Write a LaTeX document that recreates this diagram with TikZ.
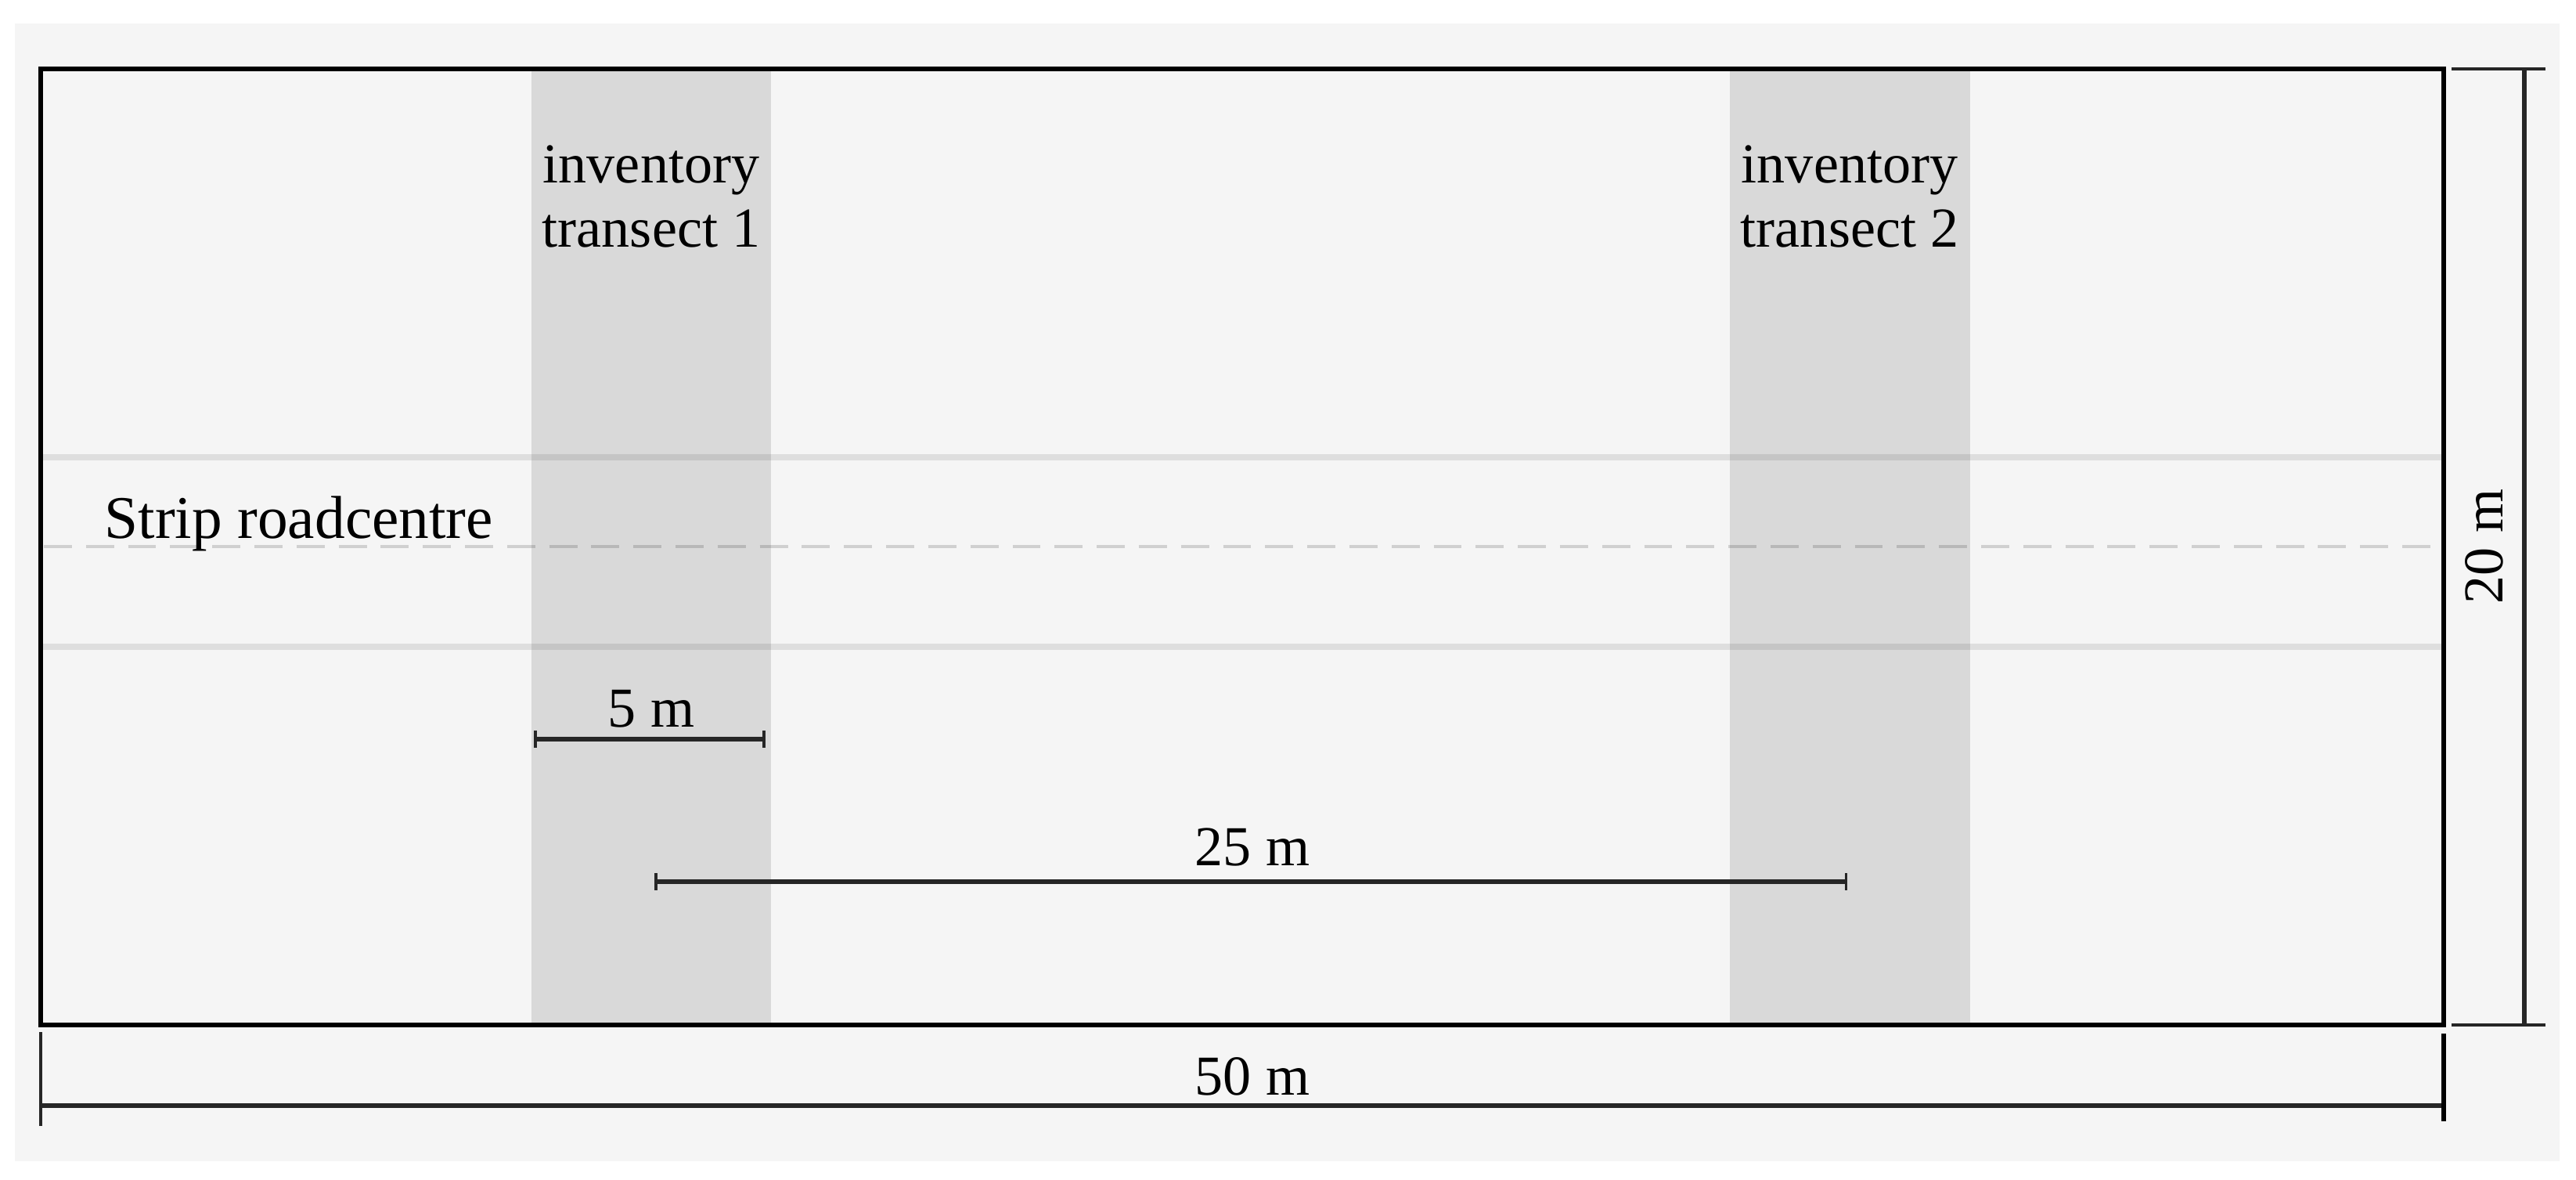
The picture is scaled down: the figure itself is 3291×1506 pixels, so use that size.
\documentclass[tikz,border=0pt]{standalone}
\usepackage{fontspec}
\setmainfont{Liberation Serif}
\usetikzlibrary{arrows.meta}
\definecolor{panel}{HTML}{F5F5F5}
\definecolor{bandgray}{HTML}{D9D9D9}
\begin{document}
\begin{tikzpicture}[x=0.01cm,y=-0.01cm,
  lbl/.style={font=\fontsize{20.5}{23.3}\selectfont, inner sep=0pt},
  stripline/.style={draw=black, draw opacity=0.09, line width=2.3pt},
  centreline/.style={draw=black, draw opacity=0.15, line width=1.4pt, dash pattern=on 10.2pt off 5.1pt},
  dimline/.style={line width=1.8pt, draw=black!85, {Bar[width=6pt,line width=1pt]}-{Bar[width=6pt,line width=1pt]}},
  bigdim/.style={line width=1.8pt, draw=black!85},
  tick/.style={line width=0.9pt, draw=black!85}]
\useasboundingbox (0,0) rectangle (3291,1506);
\fill[white] (0,0) rectangle (3291,1506);
\fill[panel] (19,30) rectangle (3270,1483);
% corners of the plot
\coordinate (r-nw) at (52,88);
\coordinate (r-se) at (3122,1309);
% transect bands
\fill[bandgray] (679,88) rectangle (985,1309);
\fill[bandgray] (2210,88) rectangle (2517,1309);
% strip road edges and centre
\coordinate (s1l) at (55,584); \coordinate (s1r) at (3120,584);
\coordinate (s2l) at (55,826); \coordinate (s2r) at (3120,826);
\coordinate (cl) at (56,698); \coordinate (cr) at (3120,698);
\draw[stripline] (s1l) -- (s1r);
\draw[stripline] (s2l) -- (s2r);
\draw[centreline] (cl) -- (cr);
% plot border
\draw[line width=1.6pt] (r-nw) rectangle (r-se);
% texts
\node[lbl, align=center, anchor=base] (t1) at (832,315) {inventory\\transect 1};
\node[lbl, align=center, anchor=base] (t2) at (2363,315) {inventory\\transect 2};
\node[font=\fontsize{22}{26}\selectfont, inner sep=0pt, anchor=base west] (strip) at (133,687) {Strip roadcentre};
% 5 m
\coordinate (a5l) at (682,944); \coordinate (a5r) at (978,944);
\draw[dimline] (a5l) -- (a5r);
\node[lbl, anchor=base] (l5) at (832,928) {5 m};
% 25 m
\coordinate (a25l) at (836,1126); \coordinate (a25r) at (2360,1126);
\draw[dimline] (a25l) -- (a25r);
\node[lbl, anchor=base] (l25) at (1600,1105) {25 m};
% 50 m
\coordinate (a50l) at (52,1412); \coordinate (a50r) at (3122,1412);
\coordinate (k1t) at (52,1318); \coordinate (k1b) at (52,1438);
\coordinate (k2t) at (3122,1320); \coordinate (k2b) at (3122,1432);
\draw[bigdim] (a50l) -- (a50r);
\draw[tick] (k1t) -- (k1b);
\draw[line width=1.6pt] (k2t) -- (k2b);
\node[lbl, anchor=base] (l50) at (1600,1398) {50 m};
% 20 m
\coordinate (a20t) at (3225,88); \coordinate (a20b) at (3225,1309);
\coordinate (h1l) at (3132,88); \coordinate (h1r) at (3252,88);
\coordinate (h2l) at (3132,1309); \coordinate (h2r) at (3252,1309);
\draw[bigdim] (a20t) -- (a20b);
\draw[tick] (h1l) -- (h1r);
\draw[tick] (h2l) -- (h2r);
\node[lbl, anchor=base, rotate=90] (l20) at (3197,698) {20 m};
\end{tikzpicture}
\end{document}
